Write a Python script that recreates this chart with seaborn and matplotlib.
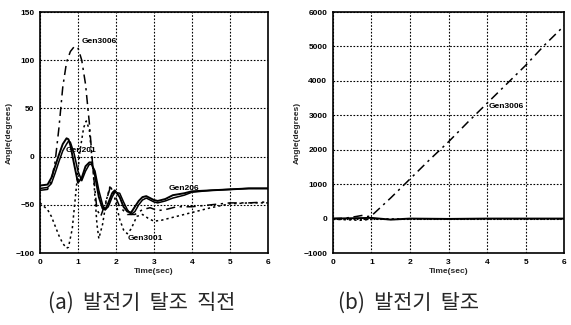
import seaborn as sns
import matplotlib.pyplot as plt

# left panel (a): rotor angle traces
t_206 = [0, 0.2, 0.3, 0.4, 0.5, 0.6, 0.7, 0.75, 0.8, 0.9, 1.0, 1.1, 1.2, 1.3, 1.36, 1.45, 1.55, 1.65,
         1.72, 1.8, 1.9, 1.97, 2.1, 2.2, 2.3, 2.4, 2.5, 2.6, 2.7, 2.8, 2.9, 3.0, 3.1, 3.3, 3.5, 3.8,
         4.0, 4.5, 5.0, 5.5, 6.0]
gen206 = [-30, -29, -22, -10, 2, 13, 19, 18, 12, -8, -27, -22, -10, -6, -6, -20, -42, -54,
          -55, -48, -38, -35, -42, -52, -57, -58, -52, -46, -42, -41, -43, -45, -46, -44, -40, -38,
          -36, -35, -34, -33, -33]
gen201 = [-33, -32, -28, -17, -5, 6, 13, 16, 15, 3, -15, -25, -15, -8, -8, -15, -35, -50,
          -55, -52, -42, -37, -38, -47, -55, -60, -57, -50, -45, -43, -45, -47, -48, -46, -43, -40,
          -37, -35, -34, -33, -33]

t_3006a = [0, 0.2, 0.3, 0.4, 0.5, 0.6, 0.7, 0.8, 0.9, 1.0, 1.1, 1.2, 1.3, 1.4, 1.5, 1.6, 1.75,
           1.85, 1.97, 2.1, 2.3, 2.5, 2.7, 2.9, 3.1, 3.3, 3.6, 4.0, 4.5, 5.0, 5.5, 6.0]
gen3006a = [-35, -34, -25, -5, 30, 72, 98, 109, 114, 113, 100, 75, 35, -15, -55, -62, -45,
            -32, -40, -52, -60, -60, -55, -53, -56, -55, -52, -52, -50, -48, -48, -47]

t_3001 = [0, 0.2, 0.3, 0.4, 0.5, 0.6, 0.7, 0.75, 0.85, 0.95, 1.05, 1.15, 1.22, 1.3, 1.4, 1.5,
          1.55, 1.65, 1.75, 1.85, 1.95, 2.1, 2.2, 2.3, 2.4, 2.55, 2.7, 2.85, 3.0, 3.2, 3.5, 4.0,
          4.5, 5.0, 5.5, 6.0]
gen3001 = [-48, -55, -62, -72, -82, -90, -95, -94, -75, -35, 5, 30, 37, 28, -15, -70,
           -85, -70, -45, -30, -40, -65, -76, -80, -75, -62, -60, -64, -67, -66, -63, -58,
           -53, -49, -48, -48]

# right panel (b)
t_3006b = [0, 0.3, 0.6, 0.75, 0.9, 1.0, 1.5, 2.0, 2.5, 3.0, 3.5, 4.0, 4.5, 5.0, 5.5, 6.0]
gen3006b = [0, 10, 60, 90, 60, 80, 600, 1150, 1700, 2230, 2800, 3350, 3900, 4450, 5050, 5600]
t_flat = [0, 0.5, 1.0, 1.5, 2.0, 3.0, 4.0, 5.0, 6.0]
flat_solid = [0, 10, 20, -30, 0, -10, 0, 0, 0]
t_dot = [0, 0.5, 0.7, 0.9, 1.2, 6.0]
flat_dot = [-20, -40, -50, -30, -10, -10]

sns.set_theme(style='white')
plt.rcParams['font.family'] = ['Liberation Sans', 'DejaVu Sans']

fig = plt.figure(figsize=(5.71, 3.25), dpi=100)
ax1 = fig.add_axes([0.070, 0.2215, 0.399, 0.7415])
ax2 = fig.add_axes([0.583, 0.2215, 0.405, 0.7415])

dashdot = (0, (6, 3, 1.5, 3))
dotted = (0, (1.5, 2))

sns.lineplot(x=t_206, y=gen206, ax=ax1, color='black', lw=1.4)
sns.lineplot(x=t_206, y=gen201, ax=ax1, color='black', lw=1.1)
sns.lineplot(x=t_3006a, y=gen3006a, ax=ax1, color='black', lw=1.1, linestyle=dashdot)
sns.lineplot(x=t_3001, y=gen3001, ax=ax1, color='black', lw=1.1, linestyle=dotted)

sns.lineplot(x=t_flat, y=flat_solid, ax=ax2, color='black', lw=1.4)
sns.lineplot(x=t_dot, y=flat_dot, ax=ax2, color='black', lw=1.1, linestyle=dotted)
sns.lineplot(x=t_3006b, y=gen3006b, ax=ax2, color='black', lw=1.1, linestyle=dashdot)

ax1.set_xlim(0, 6)
ax1.set_ylim(-100, 150)
ax1.set_yticks([-100, -50, 0, 50, 100, 150])
ax2.set_xlim(0, 6)
ax2.set_ylim(-1000, 6000)
ax2.set_yticks(range(-1000, 6001, 1000))

for ax in (ax1, ax2):
    ax.set_xticks(range(0, 7))
    ax.grid(True, color='black', linestyle=(0, (1.5, 1.5)), lw=0.8)
    for s in ax.spines.values():
        s.set_visible(True)
        s.set_color('black')
        s.set_linewidth(1.2)
    ax.tick_params(labelsize=6, length=2, pad=2, colors='black')
    for lab in ax.get_xticklabels() + ax.get_yticklabels():
        lab.set_fontweight('bold')
    ax.set_xlabel('Time(sec)', fontsize=6, fontweight='bold', labelpad=2)
    ax.set_ylabel('Angle(degrees)', fontsize=6, fontweight='bold', labelpad=2)

txt = dict(fontsize=6, fontweight='bold', color='black')
ax1.text(1.1, 118, 'Gen3006', **txt)
ax1.text(0.68, 5, 'Gen201', **txt)
ax1.text(3.4, -35, 'Gen206', **txt)
ax1.text(2.3, -86, 'Gen3001', **txt)
ax2.text(4.05, 3200, 'Gen3006', **txt)

fig.text(0.249, 0.068, '(a)  발전기  탈조  직전', ha='center', va='center', fontsize=15,
         family=['Noto Sans CJK KR'])
fig.text(0.716, 0.068, '(b)  발전기  탈조', ha='center', va='center', fontsize=15,
         family=['Noto Sans CJK KR'])

fig.savefig('out.png', dpi=100)
